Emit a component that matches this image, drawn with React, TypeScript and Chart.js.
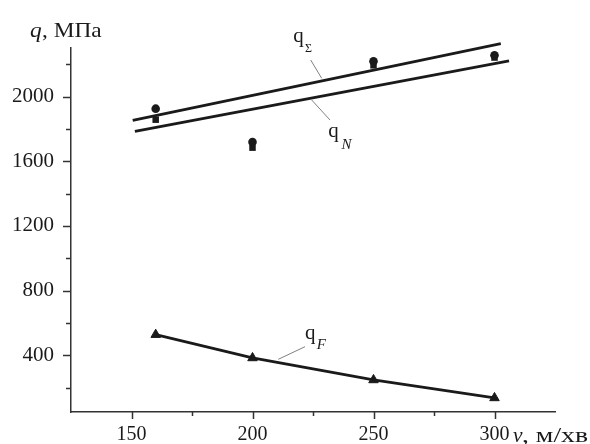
import React, { useEffect, useRef } from "react";
import { Chart, registerables } from "chart.js";

Chart.register(...registerables);

// Data
const speeds = [160, 200, 250, 300];
const qFValues = [528, 384, 248, 137];
const circleValues = [1925, 1719, 2218, 2255];
const squareValues = [1857, 1684, 2193, 2241];
const sumLineX = [150.5, 302.6];
const sumLineY = [1853, 2327];
const nLineX = [151.4, 306];
const nLineY = [1785, 2220];
const xMin = 125;
const xMax = 325;
const yMin = 50;
const yMax = 2300;
const yTickLabels = [400, 800, 1200, 1600, 2000];
const xTickLabels = [150, 200, 250, 300];

const SERIF = '"Liberation Serif", "Times New Roman", serif';
const INK = "#1a1a1a";

function pts(xs: number[], ys: number[]) {
  return xs.map((x, i) => ({ x, y: ys[i] }));
}

function stretchText(ctx: CanvasRenderingContext2D, text: string, x: number, y: number, font: string, width?: number) {
  ctx.save();
  ctx.font = font;
  ctx.textAlign = "left";
  ctx.textBaseline = "alphabetic";
  const m = ctx.measureText(text).width;
  const s = width ? width / m : 1;
  ctx.translate(x, y);
  ctx.scale(s, 1);
  ctx.fillText(text, 0, 0);
  ctx.restore();
}

const annotPlugin = {
  id: "annot",
  afterDraw(chart: any) {
    const ctx: CanvasRenderingContext2D = chart.ctx;
    const xs = chart.scales.x;
    const ys = chart.scales.y;
    const area = chart.chartArea;
    ctx.save();
    ctx.strokeStyle = "#333";
    ctx.lineWidth = 1.5;
    // y tick marks
    for (let v = 200; v <= 2200; v += 200) {
      const p = Math.round(ys.getPixelForValue(v)) + 0.5;
      const len = v % 400 === 0 ? 8 : 5;
      ctx.beginPath();
      ctx.moveTo(area.left, p);
      ctx.lineTo(area.left - len, p);
      ctx.stroke();
    }
    // x tick marks
    for (let v = 150; v <= 300; v += 25) {
      const p = Math.round(xs.getPixelForValue(v)) + 0.5;
      const len = v % 50 === 0 ? 7 : 4;
      ctx.beginPath();
      ctx.moveTo(p, area.bottom);
      ctx.lineTo(p, area.bottom + len);
      ctx.stroke();
    }
    // leader lines
    ctx.strokeStyle = "#808080";
    ctx.lineWidth = 1;
    const leaders = [
      [310.7, 60, 321.7, 78.3],
      [311.7, 100, 330, 120],
      [305, 346.7, 278.3, 359.3],
    ];
    for (const l of leaders) {
      ctx.beginPath();
      ctx.moveTo(l[0], l[1]);
      ctx.lineTo(l[2], l[3]);
      ctx.stroke();
    }
    ctx.fillStyle = INK;
    // axis titles
    stretchText(ctx, "q", 30, 36.7, `italic 21px ${SERIF}`, 11.7);
    stretchText(ctx, ", МПа", 42, 36.7, `21px ${SERIF}`, 59.7);
    stretchText(ctx, "v", 513, 441.7, `italic 20px ${SERIF}`, 9.5);
    stretchText(ctx, ", м/хв", 522, 441.7, `20px ${SERIF}`, 66);
    // curve labels
    stretchText(ctx, "q", 293.3, 41.7, `21px ${SERIF}`);
    stretchText(ctx, "Σ", 305, 52.3, `12px ${SERIF}`);
    stretchText(ctx, "q", 328.3, 137.3, `21px ${SERIF}`);
    stretchText(ctx, "N", 341.5, 149, `italic 15px ${SERIF}`);
    stretchText(ctx, "q", 305, 339.3, `21px ${SERIF}`);
    stretchText(ctx, "F", 316.7, 349, `italic 15px ${SERIF}`);
    ctx.restore();
  },
};

export default function App() {
  const ref = useRef<HTMLCanvasElement>(null);
  useEffect(() => {
    if (!ref.current) return;
    const chart = new Chart(ref.current, {
      type: "scatter",
      data: {
        datasets: [
          {
            label: "qΣ",
            data: pts(sumLineX, sumLineY),
            showLine: true,
            borderColor: INK,
            borderWidth: 2.8,
            pointRadius: 0,
            clip: false,
          } as any,
          {
            label: "qN",
            data: pts(nLineX, nLineY),
            showLine: true,
            borderColor: INK,
            borderWidth: 2.8,
            pointRadius: 0,
            clip: false,
          } as any,
          {
            label: "qF",
            data: pts(speeds, qFValues),
            showLine: true,
            borderColor: INK,
            borderWidth: 2.8,
            pointStyle: "triangle",
            pointRadius: 5.5,
            pointBackgroundColor: INK,
            pointBorderColor: INK,
            pointBorderWidth: 1,
          } as any,
          {
            label: "squares",
            data: pts(speeds, squareValues),
            showLine: false,
            pointStyle: "rect",
            pointRadius: 4.6,
            pointBackgroundColor: INK,
            pointBorderColor: INK,
            pointBorderWidth: 0,
          } as any,
          {
            label: "circles",
            data: pts(speeds, circleValues),
            showLine: false,
            pointStyle: "circle",
            pointRadius: 4.3,
            pointBackgroundColor: INK,
            pointBorderColor: INK,
            pointBorderWidth: 0,
          } as any,
        ],
      },
      options: {
        responsive: false,
        animation: false,
        layout: { padding: { top: 48, right: 35, left: 0, bottom: 0 } },
        plugins: {
          legend: { display: false },
          tooltip: { enabled: false },
        },
        scales: {
          x: {
            type: "linear",
            min: xMin,
            max: xMax,
            grid: { display: false, drawTicks: false },
            border: { display: true, color: "#333", width: 1.5 },
            ticks: {
              stepSize: 25,
              padding: 11,
              color: INK,
              font: { family: SERIF, size: 20 },
              maxRotation: 0,
              autoSkip: false,
              callback: (v: any) => (xTickLabels.includes(Number(v)) ? String(v) : ""),
            },
            afterFit: (s: any) => {
              s.height = 32;
            },
          },
          y: {
            type: "linear",
            min: yMin,
            max: yMax,
            grid: { display: false, drawTicks: false },
            border: { display: true, color: "#333", width: 1.5 },
            ticks: {
              stepSize: 50,
              padding: 17,
              color: INK,
              font: { family: SERIF, size: 21 },
              autoSkip: false,
              callback: (v: any) => (yTickLabels.includes(Number(v)) ? String(v) : null),
            },
            afterBuildTicks: (s: any) => {
              s.ticks = yTickLabels.map((v) => ({ value: v }));
            },
            afterFit: (s: any) => {
              s.width = 71;
            },
          },
        },
      },
      plugins: [annotPlugin],
    } as any);
    return () => chart.destroy();
  }, []);
  return (
    <div style={{ position: "fixed", left: 0, top: 0, width: 590, height: 444, background: "#fff" }}>
      <canvas ref={ref} width={590} height={444} style={{ display: "block" }} />
    </div>
  );
}
